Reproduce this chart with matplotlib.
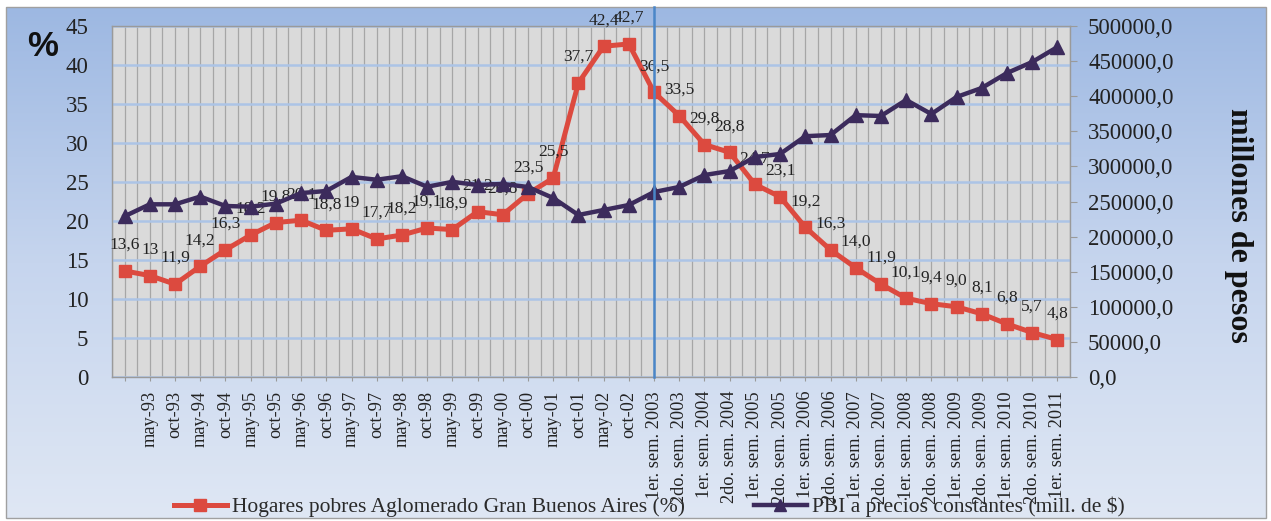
import matplotlib
matplotlib.use('Agg')
import matplotlib.pyplot as plt
import matplotlib.transforms as mtransforms
from matplotlib.colors import LinearSegmentedColormap
from matplotlib.patches import Rectangle
from matplotlib.lines import Line2D
import numpy as np

categories = ["", "may-93", "oct-93", "may-94", "oct-94", "may-95", "oct-95", "may-96", "oct-96",
              "may-97", "oct-97", "may-98", "oct-98", "may-99", "oct-99", "may-00", "oct-00",
              "may-01", "oct-01", "may-02", "oct-02",
              "1er. sem. 2003", "2do. sem. 2003", "1er. sem. 2004", "2do. sem. 2004",
              "1er. sem. 2005", "2do. sem. 2005", "1er. sem. 2006", "2do. sem. 2006",
              "1er. sem. 2007", "2do. sem. 2007", "1er. sem. 2008", "2do. sem. 2008",
              "1er. sem. 2009", "2do. sem. 2009", "1er. sem. 2010", "2do. sem. 2010",
              "1er. sem. 2011"]

pobres = [13.6, 13.0, 11.9, 14.2, 16.3, 18.2, 19.8, 20.1, 18.8, 19.0, 17.7, 18.2, 19.1, 18.9,
          21.2, 20.8, 23.5, 25.5, 37.7, 42.4, 42.7, 36.5, 33.5, 29.8, 28.8, 24.7, 23.1, 19.2,
          16.3, 14.0, 11.9, 10.1, 9.4, 9.0, 8.1, 6.8, 5.7, 4.8]
pobres_labels = ["13,6", "13", "11,9", "14,2", "16,3", "18,2", "19,8", "20,1", "18,8", "19",
                 "17,7", "18,2", "19,1", "18,9", "21,2", "20,8", "23,5", "25,5", "37,7", "42,4",
                 "42,7", "36,5", "33,5", "29,8", "28,8", "24,7", "23,1", "19,2", "16,3", "14,0",
                 "11,9", "10,1", "9,4", "9,0", "8,1", "6,8", "5,7", "4,8"]
pbi = [229000, 246000, 246000, 257000, 243600, 242600, 247000, 262000, 265000, 285000,
       281000, 286000, 271000, 278000, 273500, 275000, 270700, 255000, 230800, 237900,
       245000, 263500, 270700, 287700, 293400, 313400, 317700, 343000, 344700, 373000,
       371800, 394600, 374600, 398900, 411700, 433000, 448700, 470000]

legend_labels = ["Hogares pobres Aglomerado Gran Buenos Aires (%)",
                 "PBI a precios constantes (mill. de $)"]
left_ticks = list(range(0, 46, 5))
right_ticks = list(range(0, 500001, 50000))
break_category = "1er. sem. 2003"

W, H = 1271, 521
SERIF = ['Liberation Serif', 'DejaVu Serif']
RED = '#DC4A3F'
PURPLE = '#3C2B5C'
TXT = '#222222'

fig = plt.figure(figsize=(W / 100, H / 100), dpi=100)
fig.patch.set_facecolor('white')

# background gradient frame
bg = fig.add_axes([0, 0, 1, 1], zorder=-10)
bg.set_axis_off()
grad = np.linspace(0, 1, 256).reshape(-1, 1)
cmap = LinearSegmentedColormap.from_list('bg', ['#9DB8E2', '#C6D5EE', '#DFE7F4'])
x0, x1 = 6 / W, 1266 / W
y0, y1 = 1 - 518 / H, 1 - 7 / H
bg.imshow(grad, aspect='auto', cmap=cmap, extent=[x0, x1, y0, y1])
bg.add_patch(Rectangle((x0, y0), x1 - x0, y1 - y0, fill=False, ec='#A0A0A0', lw=1))
bg.set_xlim(0, 1)
bg.set_ylim(0, 1)

ax = fig.add_axes([112 / W, 1 - 377 / H, (1070 - 112) / W, (377 - 26) / H])
ax.set_facecolor('#DADADA')
n = len(categories)
x = np.arange(n)
ax.set_xlim(-0.5, n - 0.5)
ax.set_ylim(0, 45)

for v in np.arange(-0.5, n, 0.5):
    ax.axvline(v, color='#A6A6A6', lw=0.9, zorder=0.3)
ax.set_yticks(left_ticks)
ax.yaxis.grid(True, color='#ACC4E6', lw=1.8, zorder=0.4)
ax.set_axisbelow(True)
for s in ax.spines.values():
    s.set_color('#9A9A9A')
    s.set_linewidth(1)

ax.plot(x, pobres, color=RED, lw=3.6, marker='s', ms=9, mfc=RED, mec=RED, zorder=3)
for xi, v, lab in zip(x, pobres, pobres_labels):
    ax.annotate(lab, (xi, v), xytext=(0, 13), textcoords='offset points', ha='center',
                va='bottom', fontsize=12.5, family=SERIF, color=TXT, zorder=4)

ax.set_xticks(x)
ax.set_xticklabels(categories, rotation=90, fontsize=13.2, family=SERIF, color=TXT)
ax.tick_params(axis='x', length=3, color='#9A9A9A', pad=7)
ax.tick_params(axis='y', length=0, pad=17, labelsize=16.5, labelcolor='#222222')
for t in ax.get_yticklabels():
    t.set_family(SERIF)

ax2 = ax.twinx()
ax2.set_ylim(0, 500000)
ax2.plot(x, pbi, color=PURPLE, lw=3.2, marker='^', ms=10, mfc=PURPLE, mec=PURPLE, zorder=3)
ax2.set_yticks(right_ticks)
ax2.set_yticklabels([("%.1f" % t).replace('.', ',') for t in right_ticks],
                    family=SERIF, fontsize=16.5, color='#222222')
ax2.tick_params(axis='y', length=5, color='#9A9A9A', pad=8)
for s in ax2.spines.values():
    s.set_visible(False)

# vertical reference line at methodology change
bi = categories.index(break_category)
trans = mtransforms.blended_transform_factory(ax.transData, ax.transAxes)
ax2.plot([bi, bi], [0, 1.054], transform=trans, color='#4A86C8', lw=1.8, clip_on=False, zorder=5)

fig.text(43 / W, 1 - 46 / H, '%', fontsize=25, fontweight='bold', family=['Liberation Sans', 'DejaVu Sans'],
         ha='center', va='center', color='#111111')
fig.text(1238 / W, 1 - 225 / H, 'millones de pesos', rotation=-90, fontsize=23, fontweight='bold',
         family=SERIF, ha='center', va='center', color='#111111')

handles = [Line2D([], [], color=RED, lw=3.6, marker='s', ms=8),
           Line2D([], [], color=PURPLE, lw=3.2, marker='^', ms=9)]
fig.legend(handles, legend_labels, loc='center', bbox_to_anchor=(649 / W, 1 - 507 / H), ncol=2,
           frameon=False, prop={'family': SERIF, 'size': 15.5}, handlelength=2.5,
           handletextpad=0.2, columnspacing=3.2, labelcolor='#2A2A2A')

fig.savefig('out.png', dpi=100)
